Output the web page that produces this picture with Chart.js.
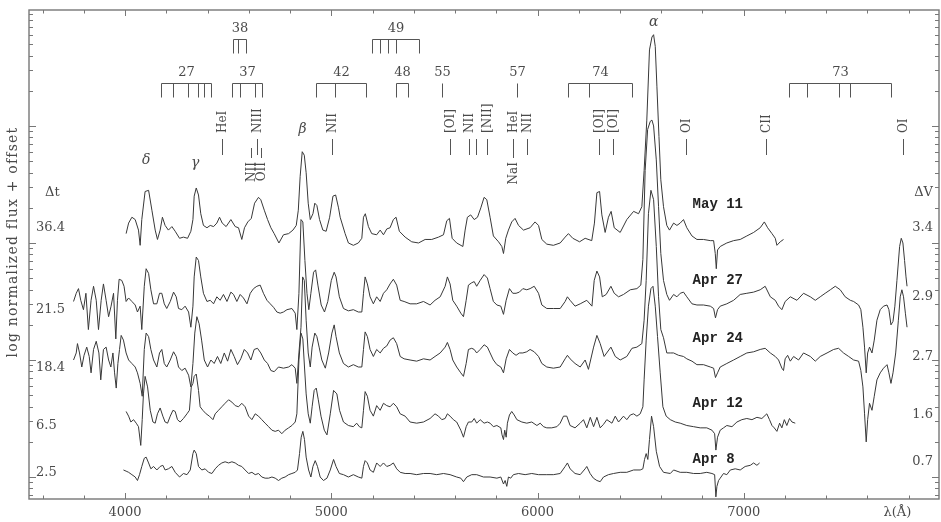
<!DOCTYPE html>
<html>
<head>
<meta charset="utf-8">
<script src="https://cdn.jsdelivr.net/npm/chart.js@4.4.1/dist/chart.umd.min.js"></script>
<style>
  html, body { margin: 0; padding: 0; background: #fff; }
  #wrap { width: 941px; height: 522px; position: relative; }
</style>
</head>
<body>
<div id="wrap"><canvas id="c" width="941" height="522"></canvas></div>
<script>
// Spectra: wavelength (Å) and log normalized flux + offset (dex)
const waveMay11 = [4005,4017,4033,4049,4065,4073,4081,4097,4114,4130,4146,4157,4170,4181,4194,4210,4227,4243,4264,4283,4303,4319,4329,4335,4345,4356,4367,4380,4397,4413,4429,4445,4458,4471,4490,4513,4534,4550,4566,4579,4595,4612,4628,4647,4658,4675,4691,4707,4723,4746,4768,4793,4814,4830,4840,4849,4859,4869,4878,4888,4898,4911,4920,4930,4943,4959,4975,4992,5008,5021,5035,5043,5067,5083,5107,5131,5148,5156,5165,5180,5196,5220,5237,5253,5269,5285,5301,5314,5330,5358,5390,5423,5455,5487,5520,5544,5560,5573,5586,5608,5638,5649,5660,5676,5693,5709,5725,5741,5754,5770,5786,5811,5827,5835,5846,5859,5875,5891,5908,5932,5964,5988,6005,6021,6045,6077,6110,6134,6150,6171,6204,6231,6263,6276,6288,6301,6312,6328,6344,6357,6372,6401,6433,6466,6490,6506,6517,6530,6543,6555,6563,6571,6579,6589,6598,6611,6627,6640,6660,6676,6692,6708,6724,6749,6773,6805,6838,6854,6862,6867,6873,6886,6918,6951,6983,7015,7048,7080,7100,7116,7137,7153,7161,7177,7193];
const fluxMay11 = [2.08,2.17,2.22,2.20,2.11,1.98,2.20,2.44,2.45,2.28,2.11,2.03,2.11,2.22,2.15,2.11,2.14,2.10,2.04,2.05,2.04,2.10,2.20,2.40,2.47,2.41,2.25,2.15,2.13,2.15,2.14,2.17,2.22,2.17,2.14,2.20,2.14,2.13,2.03,2.13,2.18,2.21,2.34,2.39,2.37,2.28,2.20,2.13,2.08,2.00,2.07,2.08,2.11,2.15,2.28,2.57,2.78,2.75,2.60,2.34,2.20,2.25,2.34,2.32,2.20,2.11,2.10,2.22,2.40,2.41,2.30,2.22,2.08,2.00,1.98,2.00,2.04,2.22,2.25,2.14,2.08,2.07,2.11,2.07,2.12,2.13,2.20,2.22,2.10,2.05,2.01,2.00,2.03,2.03,2.05,2.07,2.19,2.21,2.04,2.00,1.97,2.11,2.22,2.24,2.20,2.22,2.30,2.39,2.37,2.22,2.06,2.01,1.97,1.91,2.04,2.11,2.18,2.21,2.15,2.11,2.13,2.18,2.15,2.03,1.99,1.98,2.00,2.05,2.08,2.04,2.01,2.04,2.02,2.17,2.43,2.44,2.24,2.09,2.22,2.27,2.13,2.09,2.20,2.27,2.25,2.31,2.62,3.05,3.65,3.76,3.78,3.68,3.34,2.91,2.54,2.31,2.15,2.11,2.17,2.15,2.17,2.20,2.13,2.06,2.03,2.03,2.02,2.02,1.91,1.78,1.94,1.97,2.00,2.02,2.03,2.06,2.09,2.13,2.18,2.13,2.08,2.04,1.98,2.01,2.03];

const waveApr27 = [3750,3763,3774,3785,3798,3810,3822,3835,3847,3860,3871,3884,3895,3908,3920,3932,3944,3955,3963,3971,3984,3995,4005,4017,4033,4049,4060,4073,4081,4093,4102,4114,4125,4138,4154,4167,4178,4190,4202,4219,4235,4248,4259,4275,4291,4308,4319,4329,4335,4345,4356,4367,4380,4397,4413,4429,4445,4461,4477,4494,4513,4526,4542,4558,4574,4591,4607,4623,4639,4655,4671,4688,4704,4720,4736,4752,4768,4785,4809,4825,4833,4843,4853,4862,4872,4882,4891,4901,4914,4924,4935,4951,4967,4983,5000,5014,5023,5039,5059,5083,5107,5131,5148,5156,5164,5175,5188,5204,5220,5237,5253,5269,5285,5301,5317,5334,5353,5382,5414,5447,5479,5503,5528,5552,5563,5576,5589,5608,5628,5641,5654,5665,5681,5693,5705,5722,5741,5757,5770,5786,5803,5822,5835,5848,5864,5880,5896,5912,5929,5948,5964,5984,6005,6021,6045,6077,6110,6134,6145,6158,6182,6207,6239,6264,6275,6288,6301,6314,6333,6356,6372,6393,6417,6450,6482,6501,6511,6522,6534,6547,6555,6563,6576,6587,6598,6611,6627,6640,6660,6676,6692,6708,6724,6749,6773,6805,6838,6854,6863,6873,6886,6918,6951,6983,7015,7048,7080,7104,7129,7153,7169,7185,7201,7226,7258,7290,7323,7347,7371,7395,7420,7444,7468,7492,7517,7533,7557,7568,7578,7586,7594,7601,7610,7622,7633,7646,7662,7678,7695,7704,7714,7724,7733,7743,7756,7764,7772,7780,7787,7792];
const fluxApr27 = [1.50,1.57,1.61,1.51,1.43,1.57,1.26,1.51,1.63,1.51,1.26,1.51,1.65,1.51,1.37,1.46,1.57,1.18,1.51,1.69,1.68,1.63,1.50,1.53,1.50,1.47,1.41,1.46,1.26,1.63,1.78,1.74,1.60,1.48,1.48,1.57,1.57,1.48,1.44,1.50,1.58,1.54,1.44,1.43,1.46,1.41,1.28,1.46,1.71,1.88,1.85,1.71,1.57,1.50,1.51,1.48,1.54,1.51,1.56,1.50,1.58,1.56,1.50,1.56,1.53,1.48,1.57,1.61,1.63,1.64,1.57,1.51,1.48,1.45,1.41,1.40,1.41,1.43,1.44,1.40,1.26,1.57,2.20,2.18,1.85,1.57,1.43,1.57,1.75,1.77,1.64,1.47,1.41,1.50,1.68,1.75,1.71,1.54,1.44,1.42,1.43,1.41,1.41,1.57,1.71,1.65,1.54,1.48,1.54,1.50,1.57,1.60,1.65,1.69,1.64,1.51,1.50,1.48,1.48,1.50,1.47,1.51,1.54,1.63,1.71,1.65,1.51,1.46,1.40,1.37,1.51,1.64,1.66,1.67,1.63,1.68,1.73,1.70,1.61,1.50,1.47,1.46,1.39,1.51,1.61,1.57,1.57,1.58,1.61,1.60,1.61,1.63,1.57,1.47,1.44,1.44,1.44,1.50,1.54,1.51,1.46,1.48,1.51,1.46,1.68,1.76,1.71,1.54,1.56,1.63,1.57,1.54,1.56,1.60,1.61,1.64,1.86,2.62,2.97,3.04,3.05,3.00,2.71,2.31,1.91,1.68,1.56,1.51,1.56,1.54,1.57,1.58,1.54,1.48,1.47,1.47,1.46,1.44,1.36,1.43,1.46,1.48,1.51,1.56,1.57,1.58,1.60,1.63,1.54,1.51,1.46,1.43,1.50,1.54,1.51,1.57,1.54,1.51,1.54,1.57,1.60,1.63,1.60,1.54,1.51,1.50,1.47,1.43,1.28,1.11,0.89,1.06,1.11,1.06,1.17,1.34,1.43,1.46,1.47,1.43,1.30,1.33,1.46,1.68,1.97,2.04,2.00,1.85,1.71,1.63];

const waveApr24 = [3750,3763,3769,3779,3790,3801,3814,3826,3835,3847,3860,3873,3882,3895,3908,3920,3931,3941,3949,3957,3965,3973,3981,3992,4005,4017,4033,4049,4060,4073,4083,4093,4102,4114,4125,4138,4154,4167,4178,4190,4202,4219,4235,4248,4259,4275,4291,4308,4319,4329,4338,4348,4359,4371,4384,4400,4416,4432,4448,4464,4481,4497,4513,4529,4545,4561,4578,4594,4610,4626,4642,4658,4675,4691,4707,4723,4744,4768,4793,4809,4825,4833,4843,4853,4861,4869,4878,4888,4898,4907,4920,4930,4941,4954,4971,4987,5003,5014,5023,5039,5059,5083,5107,5131,5148,5156,5164,5175,5188,5204,5220,5237,5253,5269,5285,5301,5317,5334,5353,5382,5414,5447,5479,5503,5528,5552,5563,5576,5589,5608,5628,5641,5654,5665,5681,5693,5705,5722,5741,5757,5770,5786,5803,5822,5835,5848,5864,5880,5896,5912,5929,5948,5964,5984,6005,6021,6045,6077,6110,6134,6145,6158,6182,6207,6231,6247,6272,6288,6304,6323,6356,6377,6401,6433,6458,6482,6506,6517,6527,6538,6550,6563,6576,6587,6598,6611,6627,6644,6660,6684,6708,6724,6749,6773,6805,6838,6854,6863,6873,6886,6918,6951,6983,7015,7048,7080,7104,7129,7153,7169,7185,7193,7201,7213,7226,7242,7266,7290,7323,7347,7371,7404,7436,7460,7484,7509,7533,7557,7568,7578,7586,7594,7601,7610,7622,7633,7646,7662,7678,7695,7704,7714,7724,7737,7750,7759,7767,7775,7784,7792];
const fluxApr24 = [1.00,1.06,1.14,1.06,0.94,1.04,1.11,1.03,0.89,1.09,1.16,1.06,0.83,1.09,1.11,1.00,0.94,1.06,0.89,0.76,0.97,1.09,1.21,1.17,1.06,1.00,0.97,0.94,0.89,0.80,0.69,1.09,1.23,1.20,1.09,1.00,0.94,1.06,1.09,0.97,0.94,1.00,1.07,1.03,0.94,0.91,0.93,0.87,0.77,0.97,1.23,1.37,1.31,1.17,1.00,0.94,1.00,0.97,1.03,0.97,1.06,0.99,1.09,1.03,0.96,1.01,1.09,1.06,1.00,1.09,1.10,1.06,1.00,0.97,0.91,0.90,0.94,0.93,0.94,0.96,0.93,0.80,1.06,1.28,1.71,1.68,1.34,1.06,0.94,1.11,1.23,1.20,1.11,1.00,0.93,1.06,1.23,1.30,1.20,1.06,0.97,0.94,0.96,0.94,0.94,1.09,1.24,1.20,1.09,1.03,1.09,1.06,1.10,1.12,1.17,1.19,1.14,1.03,1.01,1.00,0.99,1.01,1.00,1.03,1.06,1.11,1.15,1.09,1.00,0.94,0.89,0.86,0.97,1.09,1.10,1.09,1.06,1.09,1.13,1.11,1.06,1.00,0.96,0.94,0.89,1.01,1.09,1.06,1.04,1.06,1.06,1.07,1.09,1.07,1.03,0.97,0.94,0.93,0.94,1.01,1.04,1.01,0.97,0.94,1.00,0.92,1.11,1.21,1.14,1.03,1.11,1.03,1.00,1.03,1.10,1.11,1.14,1.34,1.68,2.25,2.45,2.37,1.97,1.54,1.26,1.19,1.06,1.06,1.06,1.04,1.03,1.01,0.99,0.96,0.96,0.94,0.93,0.85,0.89,0.94,0.97,1.00,1.03,1.06,1.07,1.09,1.10,1.06,1.03,1.00,0.93,0.91,1.01,1.04,0.99,1.03,1.00,1.06,1.03,0.99,1.03,1.06,1.09,1.10,1.06,1.03,1.00,0.99,0.91,0.77,0.54,0.30,0.49,0.63,0.57,0.69,0.83,0.89,0.93,0.96,0.89,0.80,0.89,1.06,1.34,1.54,1.60,1.54,1.40,1.28];

const waveApr12 = [4005,4017,4028,4041,4054,4065,4076,4083,4089,4097,4109,4122,4135,4146,4157,4170,4183,4194,4206,4219,4232,4243,4254,4267,4283,4300,4312,4321,4329,4335,4345,4356,4364,4377,4393,4409,4426,4437,4453,4469,4485,4502,4518,4534,4550,4566,4582,4599,4615,4631,4647,4663,4679,4696,4712,4728,4744,4760,4776,4793,4809,4825,4833,4843,4853,4862,4870,4878,4888,4898,4907,4917,4927,4937,4950,4966,4979,4995,5011,5027,5040,5059,5083,5107,5123,5136,5148,5156,5164,5175,5188,5204,5220,5237,5253,5269,5285,5301,5317,5334,5358,5382,5414,5447,5479,5503,5520,5536,5552,5563,5576,5592,5608,5628,5641,5654,5665,5681,5693,5705,5722,5741,5757,5770,5786,5803,5822,5828,5835,5841,5848,5854,5864,5875,5887,5900,5924,5948,5972,5997,6013,6029,6045,6069,6094,6110,6126,6142,6158,6182,6207,6223,6239,6256,6272,6288,6304,6320,6336,6361,6377,6393,6417,6433,6450,6466,6482,6498,6511,6517,6527,6538,6550,6560,6571,6582,6595,6608,6624,6644,6668,6692,6724,6757,6789,6821,6846,6859,6865,6873,6886,6902,6918,6943,6967,6991,7015,7040,7064,7088,7112,7125,7137,7148,7161,7174,7185,7197,7209,7222,7234,7250];
const fluxApr12 = [0.56,0.52,0.47,0.49,0.46,0.43,0.27,0.49,0.71,0.86,0.77,0.57,0.47,0.46,0.54,0.59,0.52,0.47,0.46,0.52,0.57,0.56,0.49,0.47,0.50,0.54,0.57,0.77,0.80,0.86,0.88,0.74,0.60,0.57,0.54,0.52,0.49,0.54,0.57,0.60,0.63,0.66,0.64,0.61,0.60,0.63,0.60,0.52,0.49,0.54,0.52,0.49,0.46,0.43,0.40,0.39,0.40,0.37,0.40,0.42,0.44,0.47,0.54,1.00,1.23,1.18,0.94,0.71,0.54,0.46,0.60,0.74,0.76,0.66,0.52,0.40,0.36,0.54,0.74,0.71,0.57,0.47,0.44,0.43,0.46,0.43,0.42,0.57,0.73,0.69,0.57,0.52,0.61,0.57,0.63,0.61,0.60,0.63,0.60,0.54,0.52,0.47,0.46,0.47,0.50,0.54,0.52,0.49,0.50,0.54,0.52,0.49,0.47,0.40,0.34,0.43,0.47,0.47,0.50,0.46,0.49,0.46,0.47,0.46,0.43,0.44,0.42,0.36,0.32,0.40,0.34,0.46,0.53,0.56,0.53,0.49,0.47,0.46,0.47,0.44,0.46,0.43,0.42,0.42,0.43,0.46,0.52,0.52,0.44,0.42,0.46,0.49,0.42,0.51,0.43,0.51,0.42,0.45,0.49,0.46,0.52,0.47,0.52,0.49,0.53,0.54,0.52,0.54,0.60,0.83,1.17,1.46,1.61,1.63,1.46,1.20,0.89,0.60,0.52,0.49,0.47,0.46,0.44,0.43,0.42,0.42,0.40,0.37,0.23,0.34,0.40,0.42,0.44,0.43,0.47,0.49,0.50,0.49,0.51,0.50,0.54,0.49,0.44,0.42,0.39,0.46,0.42,0.49,0.44,0.50,0.47,0.46];

const waveApr8 = [3992,4005,4017,4033,4049,4060,4070,4081,4093,4102,4114,4125,4138,4154,4170,4183,4194,4210,4227,4243,4264,4283,4300,4316,4329,4335,4345,4356,4372,4388,4405,4421,4437,4453,4469,4485,4502,4518,4534,4550,4566,4582,4599,4615,4631,4647,4663,4679,4696,4712,4728,4744,4760,4776,4793,4809,4825,4836,4846,4854,4862,4870,4878,4890,4901,4911,4922,4933,4946,4962,4979,4995,5011,5023,5039,5059,5083,5107,5131,5148,5156,5164,5175,5188,5204,5220,5237,5253,5269,5285,5301,5317,5334,5358,5382,5414,5447,5479,5511,5544,5576,5608,5628,5641,5657,5681,5705,5738,5770,5803,5822,5835,5843,5851,5859,5870,5883,5908,5940,5972,6005,6045,6077,6110,6134,6145,6158,6182,6207,6231,6239,6255,6271,6288,6304,6320,6344,6369,6401,6433,6466,6498,6511,6519,6527,6535,6543,6553,6563,6576,6592,6611,6644,6660,6692,6724,6757,6789,6821,6846,6859,6865,6870,6878,6886,6902,6918,6935,6959,6983,7007,7032,7048,7064,7077];
const fluxApr8 = [0.06,0.05,0.04,0.02,0.00,-0.03,0.02,0.09,0.16,0.17,0.12,0.07,0.09,0.06,0.09,0.10,0.06,0.07,0.09,0.04,0.00,0.03,0.02,0.06,0.20,0.23,0.20,0.09,0.06,0.07,0.04,0.03,0.07,0.10,0.12,0.13,0.12,0.13,0.12,0.10,0.09,0.06,0.03,0.04,0.02,0.03,0.00,-0.01,-0.01,0.00,-0.01,-0.03,-0.01,0.00,0.02,0.03,0.04,0.06,0.20,0.34,0.39,0.32,0.17,0.06,0.00,0.09,0.14,0.09,0.00,-0.03,-0.01,0.06,0.15,0.09,0.03,0.02,0.00,0.02,0.00,-0.01,0.09,0.14,0.12,0.06,0.04,0.12,0.09,0.12,0.09,0.10,0.12,0.07,0.04,0.03,0.03,0.02,0.03,0.03,0.02,0.03,0.02,0.00,-0.01,-0.04,0.00,0.02,0.02,0.00,0.00,-0.01,0.00,-0.06,-0.03,-0.08,0.00,-0.01,0.02,0.03,0.02,0.03,0.02,0.02,0.02,0.03,0.09,0.12,0.07,0.03,0.02,0.07,0.09,0.03,-0.01,-0.03,-0.04,0.00,0.02,0.03,0.04,0.04,0.06,0.06,0.07,0.15,0.20,0.15,0.32,0.52,0.43,0.22,0.09,0.04,0.03,0.06,0.04,0.04,0.03,0.03,0.04,0.03,0.02,-0.17,-0.08,-0.03,-0.01,0.03,0.02,0.06,0.07,0.06,0.09,0.10,0.12,0.10,0.12];

// Epoch labels: date, days since outburst, magnitudes below maximum
const epochNames = ['May 11', 'Apr 27', 'Apr 24', 'Apr 12', 'Apr 8'];
const deltaT = ['36.4', '21.5', '18.4', '6.5', '2.5'];
const deltaV = ['3.4', '2.9', '2.7', '1.6', '0.7'];
const epochWaves = [waveMay11, waveApr27, waveApr24, waveApr12, waveApr8];
const epochFluxes = [fluxMay11, fluxApr27, fluxApr24, fluxApr12, fluxApr8];

// Axis ticks
const waveTickLabels = [4000, 5000, 6000, 7000];

// Fe II multiplets (number, member wavelengths, row)
const multipletNames = ['27', '37', '38', '42', '49', '48', '55', '57', '74', '73'];
const multipletRows = [2, 2, 1, 2, 1, 2, 2, 2, 2, 2];
const multipletWaves = [
  [4173, 4233, 4303, 4352, 4385, 4417],
  [4520, 4556, 4629, 4666],
  [4523, 4549, 4584],
  [4924, 5018, 5169],
  [5197, 5234, 5276, 5316, 5425],
  [5316, 5370],
  [5535],
  [5900],
  [6148, 6248, 6456],
  [7222, 7308, 7462, 7515, 7712]
];

// Other line identifications (wavelength, ion); 'up' label above the mark, 'down' below
const idWaves = [4471, 4640, 4610, 4660, 5001, 5577, 5667, 5700, 5755, 5880, 5880, 5950, 6300, 6364, 6721, 7109, 7774];
const idNames = ['HeI', 'NIII', 'NII', 'OII', 'NII', '[OI]', 'NII', '', '[NII]', 'HeI', 'NaI', 'NII', '[OI]', '[OI]', 'OI', 'CII', 'OI'];
const idSides = ['up', 'up', 'down', 'down', 'up', 'up', 'up', 'up', 'up', 'up', 'down', 'up', 'up', 'up', 'up', 'up', 'up'];

// Balmer lines
const balmerNames = ['δ', 'γ', 'β', 'α'];
const balmerWaves = [4102, 4340, 4861, 6563];

// ---- layout (pixels) ----
const TEXT = '#4a4a4a';
const AXIS = '#777';
const SERIF = '"DejaVu Serif", "Liberation Serif", serif';
const layout = {
  balmerY: [160, 163, 129, 22],
  dateY: [204, 280, 338, 403, 459],
  dtY: [228, 310, 368, 426, 473],
  dvY: [228, 297, 357, 415, 462],
  headY: 193,
  dateWave: 6752
};

const datasets = epochWaves.map((w, i) => ({
  label: epochNames[i],
  data: w.map((x, j) => ({ x: x, y: epochFluxes[i][j] })),
  borderColor: '#383838',
  borderWidth: 1,
  pointRadius: 0,
  tension: 0,
  fill: false
}));

const decor = {
  id: 'decor',
  afterDatasetsDraw(chart) {
    const { ctx, chartArea: a, scales: { x, y } } = chart;
    const line = (x1, y1, x2, y2) => { ctx.beginPath(); ctx.moveTo(x1, y1); ctx.lineTo(x2, y2); ctx.stroke(); };
    ctx.save();

    // frame
    ctx.strokeStyle = AXIS;
    ctx.lineWidth = 1.4;
    ctx.strokeRect(a.left, a.top, a.right - a.left, a.bottom - a.top);

    // wavelength ticks (inward, top and bottom)
    ctx.lineWidth = 1;
    for (let w = 3600; w <= 7800; w += 200) {
      const px = Math.round(x.getPixelForValue(w)) + 0.5;
      const len = w % 1000 === 0 ? 6 : 3.5;
      line(px, a.bottom, px, a.bottom - len);
      line(px, a.top, px, a.top + len);
    }
    // log flux ticks (inward, left and right)
    for (let d = -1; d <= 4; d++) {
      for (let k = 1; k <= 9; k++) {
        const v = d + Math.log10(k);
        if (v < y.min || v > y.max) continue;
        const py = Math.round(y.getPixelForValue(v)) + 0.5;
        const len = k === 1 ? 7 : 4;
        line(a.left, py, a.left + len, py);
        line(a.right, py, a.right - len, py);
      }
    }

    // tick labels
    ctx.fillStyle = TEXT;
    ctx.font = '13px ' + SERIF;
    ctx.textAlign = 'center';
    ctx.textBaseline = 'middle';
    waveTickLabels.forEach(w => ctx.fillText(String(w), x.getPixelForValue(w), 513));
    ctx.fillText('λ(Å)', x.getPixelForValue(7745), 513);

    // axis title
    ctx.save();
    ctx.translate(13, 242);
    ctx.rotate(-Math.PI / 2);
    ctx.font = '14px ' + SERIF;
    ctx.letterSpacing = '1.2px';
    ctx.fillText('log normalized flux + offset', 0, 0);
    ctx.restore();

    // epoch columns
    ctx.font = '13px ' + SERIF;
    ctx.textAlign = 'left';
    ctx.fillText('Δt', 45, layout.headY);
    deltaT.forEach((t, i) => ctx.fillText(t, 36, layout.dtY[i]));
    ctx.textAlign = 'right';
    ctx.fillText('ΔV', 933, layout.headY);
    deltaV.forEach((t, i) => ctx.fillText(t, 933, layout.dvY[i]));

    // dates
    ctx.fillStyle = '#222';
    ctx.font = 'bold 14px "Liberation Mono", "DejaVu Sans Mono", monospace';
    ctx.textAlign = 'left';
    epochNames.forEach((n, i) => ctx.fillText(n, x.getPixelForValue(layout.dateWave), layout.dateY[i]));

    // Balmer labels
    ctx.fillStyle = TEXT;
    ctx.font = 'italic 14px ' + SERIF;
    ctx.textAlign = 'center';
    balmerNames.forEach((n, i) => ctx.fillText(n, x.getPixelForValue(balmerWaves[i]), layout.balmerY[i]));

    // Fe II multiplet brackets
    ctx.strokeStyle = '#555';
    ctx.lineWidth = 1;
    ctx.font = '13px ' + SERIF;
    multipletWaves.forEach((ws, i) => {
      const row = multipletRows[i];
      const labelY = row === 1 ? 29 : 73;
      const barY = row === 1 ? 39.5 : 83.5;
      const legEnd = barY + 14;
      const pxs = ws.map(w => Math.round(x.getPixelForValue(w)) + 0.5);
      const x0 = pxs[0], x1 = pxs[pxs.length - 1];
      if (pxs.length > 1) line(x0, barY, x1, barY);
      pxs.forEach(px => line(px, barY, px, legEnd));
      ctx.fillText(multipletNames[i], (x0 + x1) / 2, labelY);
    });

    // line identifications
    ctx.font = '12px ' + SERIF;
    idWaves.forEach((w, i) => {
      const px = Math.round(x.getPixelForValue(w)) + 0.5;
      const up = idSides[i] === 'up';
      if (up) line(px, 139, px, 155); else line(px, 148, px, 158);
      const label = idNames[i];
      if (!label) return;
      ctx.save();
      ctx.translate(px, up ? 133 : 162);
      ctx.rotate(-Math.PI / 2);
      ctx.textAlign = up ? 'left' : 'right';
      ctx.textBaseline = 'middle';
      ctx.fillText(label, 0, 0);
      ctx.restore();
    });

    ctx.restore();
  }
};

new Chart(document.getElementById('c'), {
  type: 'line',
  data: { datasets: datasets },
  options: {
    responsive: false,
    animation: false,
    devicePixelRatio: 1,
    layout: { padding: { left: 29, right: 2, top: 10, bottom: 23 } },
    plugins: { legend: { display: false }, tooltip: { enabled: false } },
    scales: {
      x: { type: 'linear', min: 3534, max: 7947, display: false },
      y: { type: 'linear', min: -0.188, max: 3.991, display: false }
    }
  },
  plugins: [decor]
});
</script>
</body>
</html>
